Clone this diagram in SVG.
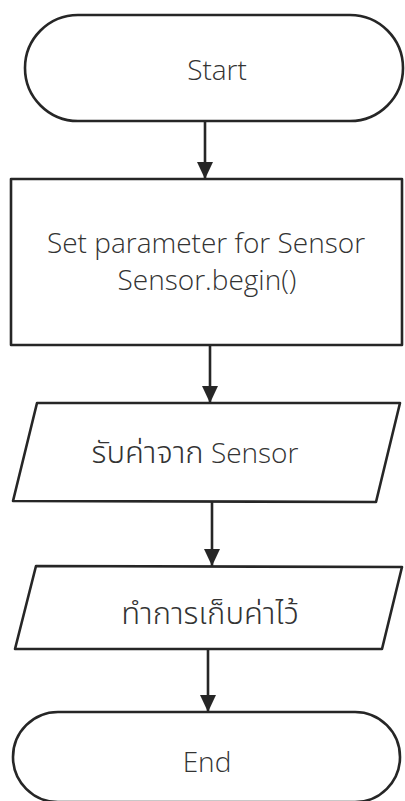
<svg xmlns="http://www.w3.org/2000/svg" width="405" height="801" viewBox="0 0 405 801">
  <defs>
    <style>
      .shape { fill: #ffffff; stroke: #262626; stroke-width: 2.6; stroke-linejoin: round; }
      .edge { fill: none; stroke: #262626; stroke-width: 2.6; }
      .label { font-family: "Open Sans", "Noto Sans", "Noto Sans Thai", "Liberation Sans", sans-serif; font-size: 28px; font-weight: 300; fill: #333333; text-anchor: middle; }
      .thai { font-size: 31px; }
    </style>
    <marker id="arrow" markerUnits="userSpaceOnUse" markerWidth="17" markerHeight="17" refX="17" refY="8" orient="auto">
      <path d="M0,0 L17,8 L0,16 Z" fill="#262626"/>
    </marker>
  </defs>
  <rect width="405" height="801" fill="#ffffff"/>

  <g id="connectors">
    <line class="edge" x1="205" y1="121" x2="205" y2="179" marker-end="url(#arrow)"/>
    <line class="edge" x1="210" y1="345" x2="210" y2="403" marker-end="url(#arrow)"/>
    <line class="edge" x1="212" y1="501" x2="212" y2="566" marker-end="url(#arrow)"/>
    <line class="edge" x1="208" y1="649" x2="208" y2="712" marker-end="url(#arrow)"/>
  </g>

  <g id="start">
    <rect class="shape" x="25" y="15" width="378" height="106" rx="53" ry="53"/>
    <text class="label" x="217" y="80">Start</text>
  </g>

  <g id="set-parameter">
    <rect class="shape" x="11" y="179" width="391" height="166"/>
    <text class="label" x="206" y="253">Set parameter for Sensor</text>
    <text class="label" x="207" y="290">Sensor.begin()</text>
  </g>

  <g id="read-sensor">
    <polygon class="shape" points="37,403 400,403 376,502 13,501"/>
    <text class="label" x="195" y="463"><tspan class="thai">รับค่าจาก</tspan> Sensor</text>
  </g>

  <g id="store-value">
    <polygon class="shape" points="36,566 402,567 382,649 15,649"/>
    <text class="label thai" x="210" y="624">ทำการเก็บค่าไว้</text>
  </g>

  <g id="end">
    <rect class="shape" x="13" y="712" width="387" height="90" rx="45" ry="45"/>
    <text class="label" x="207" y="772">End</text>
  </g>
</svg>
